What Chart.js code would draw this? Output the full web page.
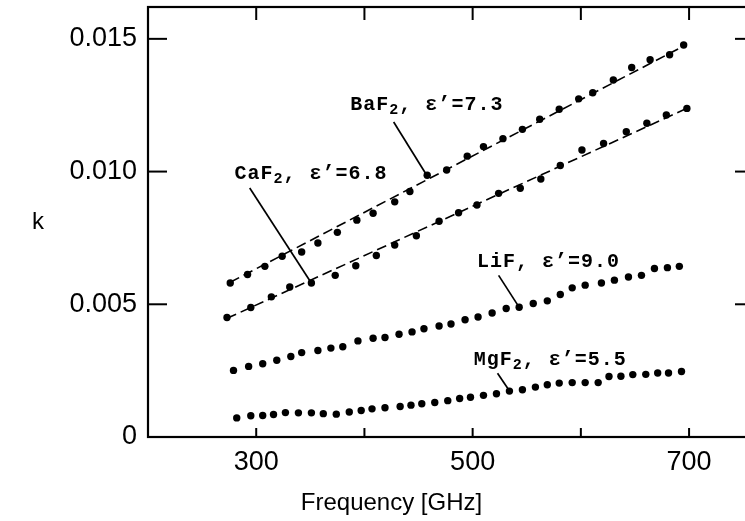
<!DOCTYPE html>
<html><head><meta charset="utf-8">
<script src="https://cdn.jsdelivr.net/npm/chart.js@4/dist/chart.umd.min.js"></script>
<style>html,body{margin:0;padding:0;background:#fff;overflow:hidden;width:745px;height:521px}canvas{display:block}</style>
</head><body><canvas id="c" width="800" height="521" style="width:800px;height:521px"></canvas>
<script>
// ---- data ----
const freqBaF2 = [276, 292, 308, 324, 342, 357, 375, 393, 408, 428, 442, 458, 476, 495, 510, 528, 546, 562, 580, 598, 611, 630, 647, 664, 682, 695];
const kBaF2 = [0.00580, 0.00612, 0.00643, 0.00681, 0.00697, 0.00731, 0.00771, 0.00817, 0.00843, 0.00886, 0.00925, 0.00986, 0.01006, 0.01058, 0.01094, 0.01124, 0.01159, 0.01197, 0.01235, 0.01274, 0.01297, 0.01345, 0.01392, 0.01421, 0.01440, 0.01477];
const freqCaF2 = [273, 295, 314, 331, 351, 373, 392, 411, 428, 448, 469, 487, 504, 524, 544, 563, 581, 601, 621, 642, 661, 679, 698];
const kCaF2 = [0.00450, 0.00488, 0.00528, 0.00565, 0.00580, 0.00609, 0.00645, 0.00684, 0.00723, 0.00758, 0.00813, 0.00845, 0.00874, 0.00918, 0.00937, 0.00972, 0.01023, 0.01081, 0.01106, 0.01150, 0.01182, 0.01213, 0.01238];
const freqLiF = [279, 293, 306, 319, 332, 342, 357, 369, 380, 394, 408, 419, 432, 444, 455, 469, 480, 493, 505, 518, 531, 543, 556, 569, 581, 592, 604, 619, 631, 644, 656, 668, 680, 691];
const kLiF = [0.00251, 0.00266, 0.00276, 0.00289, 0.00303, 0.00318, 0.00326, 0.00335, 0.00340, 0.00362, 0.00372, 0.00375, 0.00387, 0.00396, 0.00408, 0.00418, 0.00426, 0.00442, 0.00452, 0.00467, 0.00484, 0.00489, 0.00503, 0.00513, 0.00537, 0.00562, 0.00572, 0.00580, 0.00591, 0.00603, 0.00609, 0.00635, 0.00638, 0.00643];
const freqMgF2 = [282, 295, 306, 316, 327, 339, 351, 362, 374, 386, 397, 407, 419, 433, 443, 453, 465, 477, 488, 498, 510, 522, 534, 546, 558, 569, 580, 592, 604, 616, 626, 637, 648, 660, 671, 681, 693];
const kMgF2 = [0.00072, 0.00080, 0.00081, 0.00085, 0.00092, 0.00091, 0.00091, 0.00088, 0.00086, 0.00094, 0.00100, 0.00106, 0.00110, 0.00115, 0.00120, 0.00125, 0.00130, 0.00137, 0.00145, 0.00150, 0.00157, 0.00163, 0.00173, 0.00178, 0.00188, 0.00197, 0.00203, 0.00205, 0.00205, 0.00205, 0.00228, 0.00229, 0.00235, 0.00236, 0.00241, 0.00241, 0.00247];
// fitted dashed lines (end points)
const fitFreqBaF2 = [276, 696];
const fitKBaF2 = [0.00583, 0.01475];
const fitFreqCaF2 = [273, 699];
const fitKCaF2 = [0.00447, 0.01240];
// axis ticks
const xTickValues = [300, 400, 500, 600, 700];
const xTickLabels = ['300', '', '500', '', '700'];
const yTickValues = [0, 0.005, 0.010, 0.015];
const yTickLabels = ['0', '0.005', '0.010', '0.015'];
// annotation texts
const labelNames = ['BaF', 'CaF', 'LiF', 'MgF'];
const labelSubs = ['2', '2', '', '2'];
const labelRests = [', ε’=7.3', ', ε’=6.8', ', ε’=9.0', ', ε’=5.5'];

// ---- annotation placement (data space) ----
const annotPos = [
  {at: [387, 0.01251], from: [427, 0.01187], to: [457, 0.00990]},
  {at: [280, 0.00991], from: [294, 0.00938], to: [350, 0.00586]},
  {at: [504, 0.00658], from: [524, 0.00609], to: [542, 0.00495]},
  {at: [501, 0.00289], from: [523, 0.00240], to: [533, 0.00180]}
];

const pts = (xs, ys) => xs.map((v, i) => ({x: v, y: ys[i]}));
const dotStyle = {showLine: false, pointRadius: 3.7, pointBackgroundColor: '#000', pointBorderWidth: 0, pointHoverRadius: 3.7, order: 1};
const fitStyle = {showLine: true, pointRadius: 0, borderColor: '#000', borderWidth: 1.6, borderDash: [10, 5], fill: false, order: 2};
const SANS = '"Liberation Sans", Arial, sans-serif';
const MONO = '"Liberation Mono", "Courier New", monospace';

const framePlugin = {
  id: 'frame',
  afterDraw(chart) {
    const {ctx, chartArea: a, scales: {x, y}} = chart;
    const line = (x1, y1, x2, y2) => { ctx.beginPath(); ctx.moveTo(x1, y1); ctx.lineTo(x2, y2); ctx.stroke(); };
    ctx.save();
    ctx.strokeStyle = '#000';
    ctx.lineWidth = 2.2;
    ctx.strokeRect(a.left, a.top, a.right - a.left, a.bottom - a.top);
    ctx.lineWidth = 2;
    xTickValues.forEach(v => { const px = x.getPixelForValue(v); line(px, a.bottom, px, a.bottom - 9); line(px, a.top, px, a.top + 13); });
    yTickValues.filter(v => v > 0).forEach(v => { const py = y.getPixelForValue(v); line(a.left, py, a.left + 19, py); line(a.right, py, a.right - 19, py); });
    // axis titles
    ctx.fillStyle = '#000';
    ctx.font = '24px ' + SANS;
    ctx.textAlign = 'center'; ctx.textBaseline = 'middle';
    ctx.fillText('k', a.left - 110, (a.top + a.bottom) / 2);
    ctx.fillText('Frequency [GHz]', x.getPixelForValue(425), 503);
    // annotations
    ctx.lineWidth = 1.7;
    ctx.textAlign = 'left'; ctx.textBaseline = 'middle';
    ctx.letterSpacing = '1px';
    annotPos.forEach((p, i) => {
      let px = x.getPixelForValue(p.at[0]);
      const py = y.getPixelForValue(p.at[1]);
      ctx.font = 'bold 20px ' + MONO;
      ctx.fillText(labelNames[i], px, py);
      px += ctx.measureText(labelNames[i]).width;
      if (labelSubs[i]) {
        ctx.font = 'bold 15px ' + MONO;
        ctx.fillText(labelSubs[i], px, py + 5);
        px += ctx.measureText(labelSubs[i]).width;
      }
      ctx.font = 'bold 20px ' + MONO;
      ctx.fillText(labelRests[i], px, py);
      line(x.getPixelForValue(p.from[0]), y.getPixelForValue(p.from[1]), x.getPixelForValue(p.to[0]), y.getPixelForValue(p.to[1]));
    });
    ctx.restore();
  }
};

new Chart(document.getElementById('c'), {
  type: 'scatter',
  data: {
    datasets: [
      {label: 'BaF2', data: pts(freqBaF2, kBaF2), ...dotStyle},
      {label: 'CaF2', data: pts(freqCaF2, kCaF2), ...dotStyle},
      {label: 'LiF', data: pts(freqLiF, kLiF), ...dotStyle},
      {label: 'MgF2', data: pts(freqMgF2, kMgF2), ...dotStyle},
      {label: 'BaF2 fit', data: pts(fitFreqBaF2, fitKBaF2), ...fitStyle},
      {label: 'CaF2 fit', data: pts(fitFreqCaF2, fitKCaF2), ...fitStyle}
    ]
  },
  options: {
    responsive: false,
    devicePixelRatio: 1,
    animation: false,
    layout: {padding: {left: 0, right: 46, top: 7, bottom: 0}},
    plugins: {legend: {display: false}, tooltip: {enabled: false}},
    scales: {
      x: {
        type: 'linear', min: 200, max: 760,
        afterBuildTicks: s => { s.ticks = xTickValues.map(v => ({value: v})); },
        afterFit: s => { s.height = 84; s.paddingLeft = 0; s.paddingRight = 0; },
        grid: {display: false, drawTicks: false},
        border: {display: false},
        ticks: {padding: 9, color: '#000', font: {size: 27, family: SANS},
          callback: v => xTickLabels[xTickValues.indexOf(v)] ?? ''}
      },
      y: {
        type: 'linear', min: 0, max: 0.0162,
        afterBuildTicks: s => { s.ticks = yTickValues.map(v => ({value: v})); },
        afterFit: s => { s.width = 148; s.paddingTop = 0; s.paddingBottom = 0; },
        grid: {display: false, drawTicks: false},
        border: {display: false},
        ticks: {padding: 11, color: '#000', font: {size: 27, family: SANS},
          callback: v => { const i = yTickValues.findIndex(t => Math.abs(t - v) < 1e-9); return i >= 0 ? yTickLabels[i] : ''; }}
      }
    }
  },
  plugins: [framePlugin]
});
</script></body></html>
